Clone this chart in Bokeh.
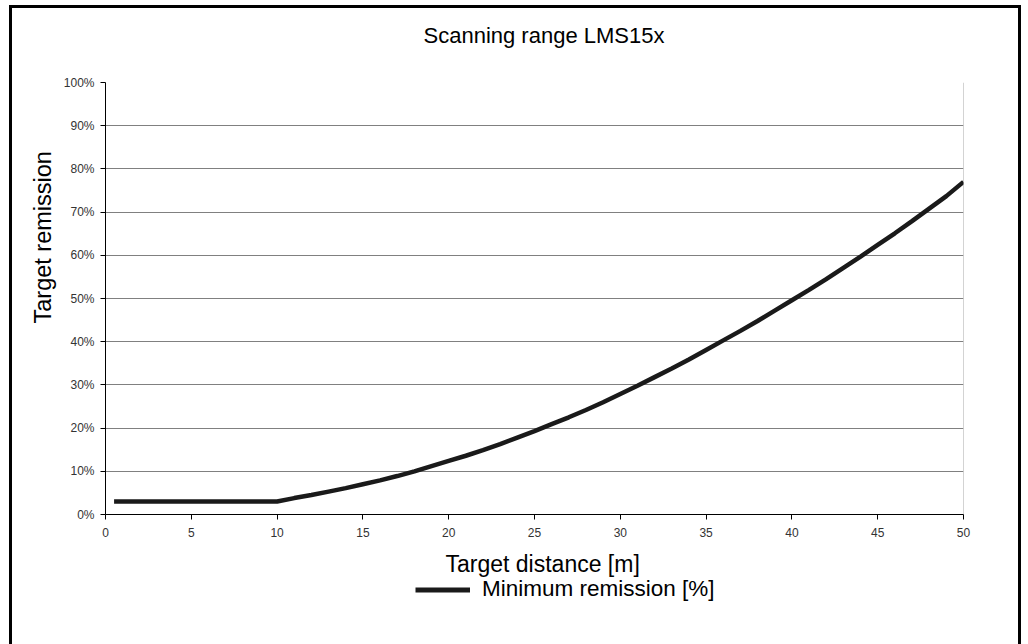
from bokeh.plotting import figure
from bokeh.layouts import column
from bokeh.models import Range1d, FixedTicker, Legend, LegendItem, NumeralTickFormatter, Title
from bokeh.embed import file_html
from bokeh.resources import INLINE

distance_m = [0.5, 1, 2, 3, 4, 5, 6, 7, 8, 9, 10,
              11, 12, 13, 14, 15, 16, 17, 18, 19, 20,
              21, 22, 23, 24, 25, 26, 27, 28, 29, 30,
              31, 32, 33, 34, 35, 36, 37, 38, 39, 40,
              41, 42, 43, 44, 45, 46, 47, 48, 49, 50]
min_remission = [0.030, 0.030, 0.030, 0.030, 0.030, 0.030, 0.030, 0.030, 0.030, 0.030, 0.030,
                 0.038, 0.045, 0.053, 0.061, 0.070, 0.079, 0.089, 0.100, 0.112, 0.124,
                 0.136, 0.149, 0.163, 0.178, 0.193, 0.209, 0.225, 0.242, 0.260, 0.279,
                 0.298, 0.318, 0.338, 0.359, 0.381, 0.403, 0.425, 0.448, 0.472, 0.496,
                 0.520, 0.545, 0.571, 0.597, 0.624, 0.651, 0.679, 0.708, 0.737, 0.770]
x_ticks = [0, 5, 10, 15, 20, 25, 30, 35, 40, 45, 50]
y_ticks = [0, 0.1, 0.2, 0.3, 0.4, 0.5, 0.6, 0.7, 0.8, 0.9, 1.0]
title_text = "Scanning range LMS15x"
x_label = "Target distance [m]"
y_label = "Target remission"
series_name = "Minimum remission [%]"

FONT = "Liberation Sans"
LINE_COLOR = "#1a1a1a"

# ---------------- main chart ----------------
p = figure(width=1006, height=533, output_backend="svg", toolbar_location=None,
           x_range=Range1d(0, 50), y_range=Range1d(0, 1.0),
           min_border_left=93, min_border_right=55, min_border_top=74, min_border_bottom=27)
p.background_fill_color = "white"
p.border_fill_color = "white"
p.outline_line_color = None

# spacer between frame and title, then the title
p.add_layout(Title(text=" ", text_font_size="10px", standoff=12), "above")
p.add_layout(Title(text=title_text, align="left", offset=318, standoff=19,
                   text_font=FONT, text_font_size="22px", text_font_style="normal",
                   text_color="black"), "above")

# y axis title, placed like the original (starts 191 px above the frame bottom)
p.add_layout(Title(text=y_label, align="left", offset=191, standoff=10,
                   text_font=FONT, text_font_size="23.5px", text_font_style="normal",
                   text_color="black"), "left")

p.xgrid.grid_line_color = None
p.ygrid.ticker = FixedTicker(ticks=y_ticks)
p.ygrid.grid_line_color = "#808080"
p.ygrid.grid_line_width = 1

# right edge of plot area
p.segment(x0=[50], y0=[0], x1=[50], y1=[1.0], line_color="#a8a8a8", line_width=1)

line = p.line(distance_m, min_remission, line_color=LINE_COLOR, line_width=4.5)

p.xaxis.ticker = FixedTicker(ticks=x_ticks)
p.yaxis.ticker = FixedTicker(ticks=y_ticks)
p.yaxis.formatter = NumeralTickFormatter(format="0%")
for ax in (p.xaxis, p.yaxis):
    ax.axis_line_color = "black"
    ax.axis_line_width = 1
    ax.major_tick_line_color = "black"
    ax.major_tick_out = 5
    ax.major_tick_in = 0
    ax.minor_tick_line_color = None
    ax.major_label_text_font = FONT
    ax.major_label_text_font_size = "12px"
    ax.major_label_text_color = "#333333"
p.xaxis.major_label_standoff = 8
p.yaxis.major_label_standoff = 6

# ---------------- x label + legend strip ----------------
# same x range; y range lies above the data, so the series itself is not drawn here
p2 = figure(width=1006, height=103, output_backend="svg", toolbar_location=None,
            x_range=Range1d(0, 50), y_range=Range1d(5, 6),
            x_axis_location=None, y_axis_location=None,
            min_border_left=93, min_border_right=55, min_border_top=35, min_border_bottom=0)
p2.background_fill_color = "white"
p2.border_fill_color = "white"
p2.outline_line_color = None
p2.xgrid.grid_line_color = None
p2.ygrid.grid_line_color = None
p2.add_layout(Title(text=x_label, align="left", offset=340, standoff=0,
                    text_font=FONT, text_font_size="23px", text_font_style="normal",
                    text_color="black"), "above")

legend_line = p2.line(distance_m, min_remission, line_color=LINE_COLOR, line_width=5)
legend = Legend(items=[LegendItem(label=series_name, renderers=[legend_line])],
                orientation="horizontal", location=(310, 42),
                border_line_color=None, background_fill_alpha=0,
                label_text_font=FONT, label_text_font_size="22.5px",
                label_text_color="black",
                glyph_width=55, glyph_height=25, padding=0, margin=0,
                label_standoff=12)
p2.add_layout(legend, "center")

layout = column(p, p2, spacing=0,
                styles={"margin-left": "9px", "margin-top": "5px",
                        "border-top": "3px solid black", "border-left": "3px solid black",
                        "border-right": "3px solid black"})

open("out.html", "w").write(file_html(layout, INLINE))
